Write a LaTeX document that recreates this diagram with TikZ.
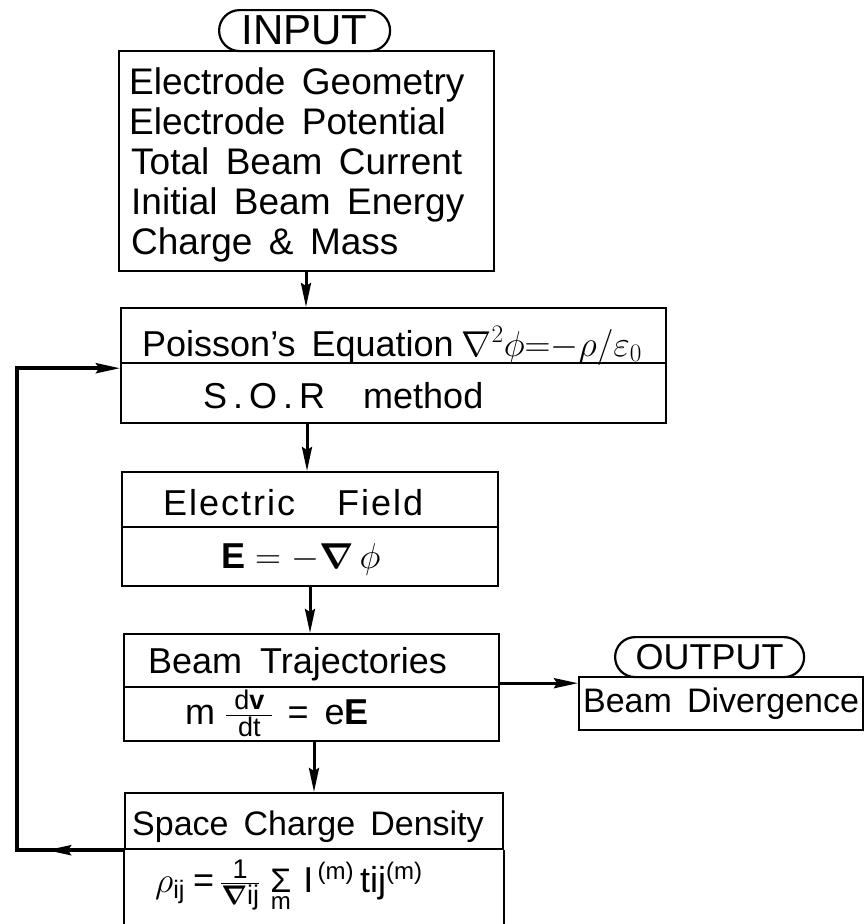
\RequirePackage{fix-cm}
\documentclass[tikz,border=0pt]{standalone}
\usepackage{amsmath}
\usepackage{bm}
\usepackage{fontspec}
\setmainfont{Liberation Sans}[WordSpace=1.6]
\usetikzlibrary{arrows.meta,decorations.markings}
\newcommand{\fsz}[1]{\fontsize{#1}{#1}\selectfont}
\tikzset{
  box/.style args={#1/#2}{draw,line width=2.2pt,minimum width=#1,minimum height=#2,inner sep=0pt,anchor=north west},
  txt/.style={anchor=base west,inner sep=0pt,font=\fontsize{36}{40}\selectfont},
  intxt/.style={txt,font=\fontsize{37}{40}\selectfont},
  tip/.style={-{Stealth[length=24pt,width=10pt,inset=3pt]}},
  arr/.style={line width=3pt,tip},
  fb/.style={line width=3.5pt},
}
\begin{document}
\begin{tikzpicture}[x=1pt,y=1pt]
\useasboundingbox (0,0) rectangle (865,-924);
% INPUT
\node[box=171/41,rounded corners=20.5pt,font=\fontsize{42}{44}\selectfont] (inlabel) at (218,-9) {INPUT};
\node[box=375/220] (inbox) at (118,-50) {};
\node[intxt] (in1) at ([xshift=11pt,yshift=-44pt]inbox.north west) {Electrode Geometry};
\node[intxt] (in2) at ([yshift=-40pt]in1.base west) {Electrode Potential};
\node[intxt] (in3) at ([xshift=2pt,yshift=-40pt]in2.base west) {Total Beam Current};
\node[intxt] (in4) at ([yshift=-40pt]in3.base west) {Initial Beam Energy};
\node[intxt] (in5) at ([yshift=-40pt]in4.base west) {Charge \& Mass};
% Poisson
\node[box=545/55] (poisA) at (120,-307) {};
\node[box=545/60] (poisB) at (120,-362) {};
\node[txt] (poisAt) at ([xshift=22pt,yshift=-49pt]poisA.north west) {Poisson's Equation\hspace{8pt}$\nabla^2\phi{=}{-}\rho/\varepsilon_0$};
\node[txt] (poisBt) at ([xshift=83pt,yshift=-46pt]poisB.north west) {S\,.\,O\,.\,R\hspace{38pt}method};
% Electric field
\node[box=376/55] (elA) at (121,-471) {};
\node[box=376/59] (elB) at (121,-526) {};
\node[txt] (elAt) at ([xshift=42pt,yshift=-44pt]elA.north west) {E\kern2pt l\kern2pt e\kern2pt c\kern2pt t\kern2pt r\kern2pt i\kern2pt c\hspace{42pt}F\kern2pt i\kern2pt e\kern2pt l\kern2pt d};
\node[txt] (elBt) at ([xshift=100pt,yshift=-42pt]elB.north west) {$\mathbf{E} = -\bm{\nabla}\,\phi$};
% Beam trajectories
\node[box=375/53] (beamA) at (123,-633) {};
\node[box=375/54] (beamB) at (123,-686) {};
\node[txt] (beamAt) at ([xshift=25pt,yshift=-40pt]beamA.north west) {Beam\hspace{18pt}Trajectories};
\node[txt] (beamBt) at ([xshift=62pt,yshift=-38pt]beamB.north west)
  {m\hspace{10pt}$\frac{\hspace{8pt}\text{\fsz{27}d\textbf{v}}\hspace{8pt}}{\text{\fsz{27}dt}}$\hspace{14pt}=\hspace{16pt}e\textbf{E}};
% Space charge density
\node[box=378/56] (spA) at (124,-792) {};
\draw[line width=2.2pt] (spA.south west) -- ++(0,-100);
\draw[line width=2.2pt] (spA.south east) -- ++(0,-100);
\node[txt,font=\fontsize{34}{40}\selectfont] (spAt) at ([xshift=8pt,yshift=-43pt]spA.north west) {Space Charge Density};
\node[txt] (spBt) at ([xshift=31pt,yshift=-42pt]spA.south west)
  {$\rho_{\text{ij}}$\hspace{8pt}=\hspace{6pt}$\frac{\hspace{4pt}\text{\fsz{27}1}\hspace{4pt}}{\text{\fsz{27}$\bm{\nabla}$ij}}$\hspace{10pt}$\mathop{\text{\fsz{34}Σ}}\limits_{\text{\fsz{24}m}}$\hspace{12pt}$\mathrm{I}^{\,\text{\fsz{24}(m)}}$\,tij$^{\text{\fsz{24}(m)}}$};
% Output
\node[box=189/40,rounded corners=20pt,font=\fontsize{36}{40}\selectfont] (outlabel) at (614,-636) {OUTPUT};
\node[box=284/53,font=\fontsize{34}{40}\selectfont] (bd) at (578,-676) {Beam Divergence};
% connectors
\coordinate (a1) at ([xshift=188pt]inbox.south west);
\coordinate (a2) at ([xshift=187pt]poisB.south west);
\coordinate (a3) at ([xshift=189pt]elB.south west);
\coordinate (a4) at ([xshift=191pt]beamB.south west);
\draw[arr] (a1) -- (a1 |- poisA.north);
\draw[arr] (a2) -- (a2 |- elA.north);
\draw[arr] (a3) -- (a3 |- beamA.north);
\draw[arr] (a4) -- (a4 |- spA.north);
\coordinate (a5) at ([yshift=5pt]beamA.south east);
\draw[arr] (a5) -- (a5 -| bd.west);
\coordinate (fbin) at ([yshift=-4pt]poisA.south west);
\draw[fb,tip,postaction={decorate},decoration={markings,
  mark=at position 77pt with {\arrow{Stealth[length=24pt,width=10pt,inset=3pt]}}}]
  (spA.south west) -- ++(-107pt,0) coordinate (fbcorner) |- (fbin);
\end{tikzpicture}
\end{document}
